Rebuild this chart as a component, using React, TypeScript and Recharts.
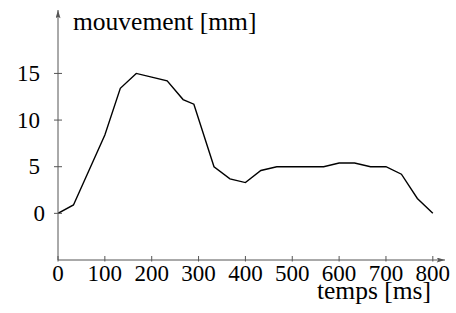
import React from 'react';
import { LineChart, Line, XAxis, YAxis } from 'recharts';

// movement over time
const timeMs = [0, 33, 100, 133, 167, 200, 233, 267, 290, 333, 367, 400, 433, 467, 500, 533, 567, 600, 633, 667, 700, 733, 767, 800];
const movementMm = [0, 0.9, 8.4, 13.4, 15, 14.6, 14.2, 12.2, 11.7, 5.0, 3.7, 3.3, 4.6, 5.0, 5.0, 5.0, 5.0, 5.4, 5.4, 5.0, 5.0, 4.2, 1.6, 0];

const xTicks = [0, 100, 200, 300, 400, 500, 600, 700, 800];
const yTicks = [0, 5, 10, 15];

const data = timeMs.map((t, i) => ({ t, v: movementMm[i] }));

const FONT = 'Liberation Serif';
const AXIS = '#555';

const XTick = (props: any) => {
  const { x, y, payload } = props;
  return (
    <g>
      <line x1={x} x2={x} y1={y - 4} y2={y + 1.5} stroke={AXIS} strokeWidth={1} />
      <text x={x} y={y + 21} textAnchor="middle" fontFamily={FONT} fontSize={23} fill="#000">
        {payload.value}
      </text>
    </g>
  );
};

const YTick = (props: any) => {
  const { x, y, payload } = props;
  const shift = payload.value === 0 ? 5 : 0;
  return (
    <g>
      <line x1={x - 4} x2={x + 4} y1={y} y2={y} stroke={AXIS} strokeWidth={1} />
      <text x={x - 18 + shift} y={y + 7.5} textAnchor="end" fontFamily={FONT} fontSize={23} fill="#000">
        {payload.value}
      </text>
    </g>
  );
};

export default function App() {
  return (
    <div style={{ position: 'absolute', left: 0, top: 0, width: 456, height: 313, background: '#fff' }}>
      <svg width={0} height={0} style={{ position: 'absolute' }}>
        <defs>
          <marker id="arrow" viewBox="0 0 10 6" refX={10} refY={3} markerWidth={9} markerHeight={5}
            markerUnits="userSpaceOnUse" orient="auto-start-reverse">
            <path d="M0,0 L10,3 L0,6 L2,3 Z" fill={AXIS} />
          </marker>
        </defs>
      </svg>
      <LineChart width={456} height={313} data={data} margin={{ top: 10, right: 11, left: 0, bottom: 0 }}>
        <XAxis
          dataKey="t"
          type="number"
          domain={[0, 826]}
          allowDataOverflow
          ticks={xTicks}
          interval={0}
          height={53}
          tickLine={false}
          tickSize={0}
          tickMargin={0}
          tick={<XTick />}
          axisLine={{ stroke: AXIS, strokeWidth: 1, markerEnd: 'url(#arrow)' }}
        />
        <YAxis
          type="number"
          domain={[-5, 21.8]}
          allowDataOverflow
          ticks={yTicks}
          interval={0}
          width={58}
          tickLine={false}
          tickSize={0}
          tickMargin={0}
          tick={<YTick />}
          axisLine={{ stroke: AXIS, strokeWidth: 1, markerStart: 'url(#arrow)' }}
        />
        <Line dataKey="v" type="linear" stroke="#000" strokeWidth={1.4} dot={false} isAnimationActive={false} />
      </LineChart>
      <svg width={456} height={313} style={{ position: 'absolute', left: 0, top: 0, pointerEvents: 'none' }}>
        <text x={73} y={30} fontFamily={FONT} fontSize={25.5} fill="#000">mouvement [mm]</text>
        <text x={431} y={299} textAnchor="end" fontFamily={FONT} fontSize={25.5} fill="#000">temps [ms]</text>
      </svg>
    </div>
  );
}
